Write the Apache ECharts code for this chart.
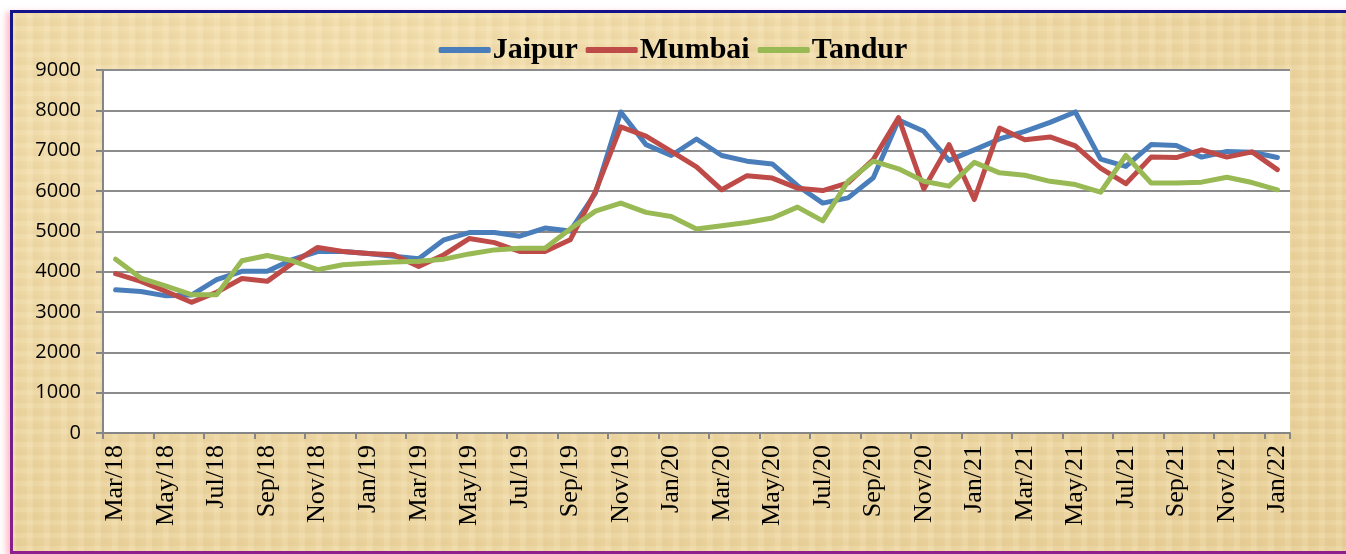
<!DOCTYPE html>
<html>
<head>
<meta charset="utf-8">
<script src="https://cdn.jsdelivr.net/npm/echarts@6/dist/echarts.min.js"></script>
<style>
html,body{margin:0;padding:0;width:1346px;height:554px;overflow:hidden;background:#fff;}
#frame{position:absolute;left:10px;top:10px;width:1346px;height:538px;
  background-color:#ead39d;
  background-image:
    repeating-linear-gradient(90deg, rgba(255,245,215,0.14) 0px, rgba(255,245,215,0.14) 5px, rgba(195,165,105,0.07) 7px, rgba(255,245,215,0) 17px),
    repeating-linear-gradient(0deg, rgba(255,245,215,0.14) 0px, rgba(255,245,215,0.14) 4px, rgba(195,165,105,0.07) 6px, rgba(255,245,215,0) 13px),
    radial-gradient(ellipse at 30% 20%, rgba(255,240,200,0.45), rgba(225,195,135,0.3));
  border-top:3px solid #14148a;border-bottom:3px solid #8e1f8c;
  box-shadow:-4px 2px 6px rgba(255,110,130,0.45);}
#lborder{position:absolute;left:10px;top:10px;width:3px;height:544px;
  background:linear-gradient(180deg,#14148a 0%,#3a1a8c 40%,#8e1f8c 100%);}
#chart{position:absolute;left:0;top:0;width:1346px;height:554px;}
</style>
</head>
<body>
<div id="frame"></div>
<div id="lborder"></div>
<div id="chart"></div>
<script>
const categories = ["Mar/18","Apr/18","May/18","Jun/18","Jul/18","Aug/18","Sep/18","Oct/18","Nov/18","Dec/18",
"Jan/19","Feb/19","Mar/19","Apr/19","May/19","Jun/19","Jul/19","Aug/19","Sep/19","Oct/19","Nov/19","Dec/19",
"Jan/20","Feb/20","Mar/20","Apr/20","May/20","Jun/20","Jul/20","Aug/20","Sep/20","Oct/20","Nov/20","Dec/20",
"Jan/21","Feb/21","Mar/21","Apr/21","May/21","Jun/21","Jul/21","Aug/21","Sep/21","Oct/21","Nov/21","Dec/21",
"Jan/22"];
const jaipur = [3550,3510,3400,3420,3800,4010,4010,4300,4500,4500,4450,4380,4320,4790,4970,4970,4880,5080,5010,5950,7960,7150,6880,7290,6880,6740,6670,6130,5700,5830,6330,7760,7480,6760,7020,7290,7480,7700,7960,6790,6610,7150,7130,6840,6980,6960,6830];
const mumbai = [3950,3760,3510,3240,3490,3830,3760,4210,4600,4500,4450,4420,4130,4420,4820,4720,4500,4500,4790,5990,7590,7360,6980,6600,6030,6380,6320,6070,6010,6200,6780,7820,6050,7150,5790,7560,7270,7340,7120,6570,6180,6840,6830,7020,6840,6970,6530];
const tandur = [4310,3840,3640,3430,3430,4270,4400,4270,4050,4170,4210,4240,4260,4310,4440,4540,4580,4580,5060,5500,5700,5470,5370,5060,5140,5220,5330,5600,5260,6240,6740,6550,6240,6120,6710,6450,6390,6240,6160,5970,6880,6200,6200,6220,6340,6210,6030];
const seriesNames = ["Jaipur","Mumbai","Tandur"];
const colors = ["#4a7ebb","#be4b48","#98b954"];

const chart = echarts.init(document.getElementById('chart'), null, {renderer:'canvas'});
const mk = (name, data, color) => ({
  name, type:'line', data, symbol:'none', smooth:false, color,
  lineStyle:{width:5, color, cap:'round', join:'round'}
});
chart.setOption({
  animation:false,
  backgroundColor:'transparent',
  legend:{
    top:30, left:'center', icon:'roundRect', itemWidth:52, itemHeight:6, itemGap:8,
    data:seriesNames,
    textStyle:{fontFamily:'Liberation Serif', fontWeight:'bold', fontSize:30, color:'#000', padding:[0,0,0,-3]}
  },
  grid:{left:103, right:56, top:70, bottom:121, show:true, backgroundColor:'#fff', borderWidth:0},
  xAxis:{
    type:'category', data:categories, boundaryGap:true,
    axisLine:{lineStyle:{color:'#868686', width:2}},
    axisTick:{show:true, interval:1, length:6, lineStyle:{color:'#868686', width:2}},
    axisLabel:{interval:1, rotate:90, margin:12, fontFamily:'Liberation Serif', fontSize:26, color:'#000'}
  },
  yAxis:{
    type:'value', min:0, max:9000, interval:1000,
    axisLine:{show:true, lineStyle:{color:'#868686', width:2}},
    axisTick:{show:true, length:7, lineStyle:{color:'#868686', width:2}},
    axisLabel:{margin:22, fontFamily:'Open Sans', fontSize:20, color:'#000', formatter:(v)=>String(v)},
    splitLine:{lineStyle:{color:'#8c8c8c', width:2}}
  },
  series:[mk(seriesNames[0], jaipur, colors[0]), mk(seriesNames[1], mumbai, colors[1]), mk(seriesNames[2], tandur, colors[2])]
});
</script>
</body>
</html>
